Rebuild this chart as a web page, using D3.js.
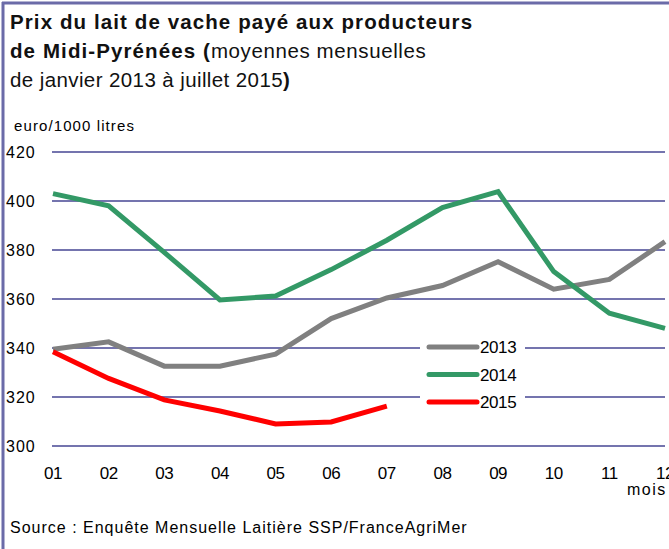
<!DOCTYPE html>
<html>
<head>
    <meta charset="utf-8">
    <title>Prix du lait de vache</title>
    <script src="https://d3js.org/d3.v7.min.js"></script>
    <style>
        body {
            margin: 0;
            padding: 0;
            background-color: #ffffff;
            font-family: "Liberation Sans", Arial, sans-serif;
        }
        .grid line {
            stroke: #7474ae;
            stroke-width: 2;
        }
        .serie {
            fill: none;
            stroke-width: 5;
            stroke-linejoin: miter;
        }
    </style>
</head>
<body>
    <div id="chart"></div>

    <script>
        // mois et valeurs (euro/1000 litres)
        var months = ["01", "02", "03", "04", "05", "06", "07", "08", "09", "10", "11", "12"];
        var yTicks = [300, 320, 340, 360, 380, 400, 420];
        var values2013 = [339.5, 342.5, 332.6, 332.6, 337.5, 352, 360.4, 365.5, 375.2, 364, 368, 383.4];
        var values2014 = [403, 398, 379, 359.6, 361.2, 372, 384, 397.3, 403.8, 371.2, 354.2, 348];
        var values2015 = [338.5, 327.6, 318.8, 314.3, 309, 309.8, 316.3];
        var seriesNames = ["2013", "2014", "2015"];
        var seriesColors = ["#808080", "#339966", "#ff0000"];

        var width = 669, height = 549;

        var svg = d3.select("#chart")
            .append("svg")
            .attr("width", width)
            .attr("height", height);

        // cadre
        svg.append("line").attr("x1", 3).attr("x2", 3).attr("y1", 2).attr("y2", height)
            .attr("stroke", "#6b6ba8").attr("stroke-width", 3);
        svg.append("line").attr("x1", 2).attr("x2", width).attr("y1", 3).attr("y2", 3)
            .attr("stroke", "#6b6ba8").attr("stroke-width", 3);

        // titre
        var t1 = svg.append("text").attr("x", 10).attr("y", 29).style("font-size", "20.5px").style("fill", "#111");
        t1.append("tspan").attr("font-weight", "bold").style("letter-spacing", "1.1px")
            .text("Prix du lait de vache payé aux producteurs");
        var t2 = svg.append("text").attr("x", 10).attr("y", 58).style("font-size", "20.5px").style("fill", "#111");
        t2.append("tspan").attr("font-weight", "bold").style("letter-spacing", "1.1px").text("de Midi-Pyrénées (");
        t2.append("tspan").style("letter-spacing", "0.6px").text("moyennes mensuelles");
        var t3 = svg.append("text").attr("x", 10).attr("y", 87).style("font-size", "20.5px").style("fill", "#111");
        t3.append("tspan").style("letter-spacing", "0.4px").text("de janvier 2013 à juillet 2015");
        t3.append("tspan").attr("font-weight", "bold").text(")");

        svg.append("text")
            .attr("x", 14)
            .attr("y", 131)
            .style("font-size", "15px")
            .style("letter-spacing", "1.1px")
            .text("euro/1000 litres");

        // echelles
        var xScale = d3.scalePoint()
            .domain(months)
            .range([53, 665]);

        var yScale = d3.scaleLinear()
            .domain([300, 420])
            .range([446, 152]);

        // lignes de grille
        var grid = svg.append("g").attr("class", "grid");
        grid.selectAll("line")
            .data(yTicks)
            .enter().append("line")
            .attr("x1", 52)
            .attr("x2", 665)
            .attr("y1", function(d) { return yScale(d); })
            .attr("y2", function(d) { return yScale(d); });

        svg.append("g").selectAll("text")
            .data(yTicks)
            .enter().append("text")
            .attr("x", 6)
            .attr("y", function(d) { return yScale(d); })
            .attr("dy", "0.36em")
            .style("font-size", "16px")
            .style("letter-spacing", "1px")
            .text(function(d) { return d; });

        svg.append("g").selectAll("text")
            .data(months)
            .enter().append("text")
            .attr("x", function(d) { return xScale(d); })
            .attr("y", 479)
            .attr("text-anchor", "middle")
            .style("font-size", "17px")
            .style("letter-spacing", "-0.5px")
            .text(function(d) { return d; });

        svg.append("text")
            .attr("x", 627)
            .attr("y", 495)
            .style("font-size", "16px")
            .style("letter-spacing", "1.5px")
            .text("mois");

        // courbes
        var line = d3.line()
            .x(function(d, i) { return xScale(months[i]); })
            .y(function(d) { return yScale(d); });

        var allSeries = [values2013, values2014, values2015];

        // legende (fond blanc sur la grille)
        var legend = svg.append("g");
        legend.append("rect")
            .attr("x", 420).attr("y", 335)
            .attr("width", 105).attr("height", 75)
            .attr("fill", "#ffffff");

        allSeries.forEach(function(vals, k) {
            svg.append("path")
                .datum(vals)
                .attr("class", "serie")
                .attr("stroke", seriesColors[k])
                .attr("d", line);
        });

        seriesNames.forEach(function(name, k) {
            var ly = 347 + k * 27.5;
            legend.append("line")
                .attr("x1", 429).attr("x2", 477)
                .attr("y1", ly).attr("y2", ly)
                .attr("stroke", seriesColors[k])
                .attr("stroke-width", 5)
                .attr("stroke-linecap", "round");
            legend.append("text")
                .attr("x", 480)
                .attr("y", ly)
                .attr("dy", "0.36em")
                .style("font-size", "17px")
                .style("letter-spacing", "-0.4px")
                .text(name);
        });

        // source
        svg.append("text")
            .attr("x", 10)
            .attr("y", 533)
            .style("font-size", "16px")
            .style("letter-spacing", "1px")
            .text("Source : Enquête Mensuelle Laitière SSP/FranceAgriMer");
    </script>
</body>
</html>
